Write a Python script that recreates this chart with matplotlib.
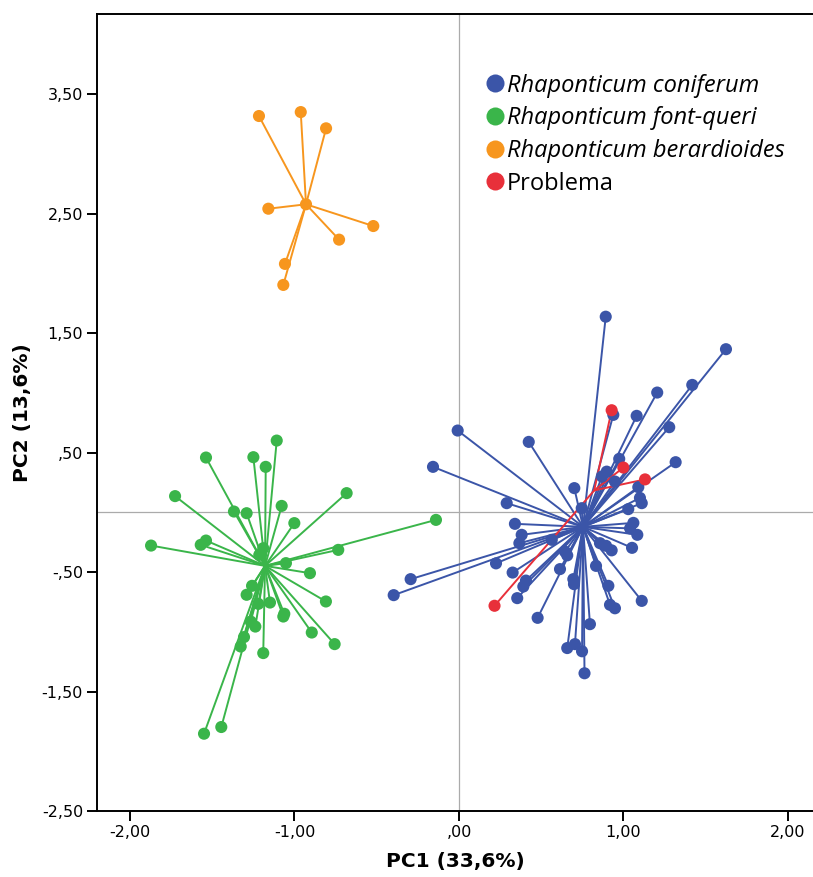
import numpy as np
import matplotlib
matplotlib.use("Agg")
import matplotlib.pyplot as plt
from matplotlib.lines import Line2D

# group scores (PC1, PC2)
coniferum_x = [0.892, 1.623, 1.418, 1.205, 1.080, 0.938, 1.278, -0.008, 0.424, 1.317,
               -0.158, 0.974, 0.898, 0.869, 0.948, 0.701, 1.090, 1.100, 1.111, 0.290,
               1.029, 0.746, 0.340, 1.060, 1.040, 1.084, 0.381, 0.367, 0.564, 0.857,
               0.894, 0.928, 1.052, 0.644, 0.658, 0.225, -0.294, 0.614, 0.833, 0.326,
               0.695, 0.699, 0.407, 0.391, 0.908, -0.397, 0.354, 0.918, 0.948, 1.111,
               0.478, 0.796, 0.658, 0.705, 0.748, 0.763]
coniferum_y = [1.638, 1.366, 1.067, 1.003, 0.808, 0.816, 0.713, 0.685, 0.590, 0.420,
               0.381, 0.448, 0.341, 0.300, 0.258, 0.203, 0.211, 0.121, 0.077, 0.077,
               0.027, 0.035, -0.096, -0.088, -0.134, -0.188, -0.188, -0.258, -0.230, -0.258,
               -0.280, -0.318, -0.297, -0.328, -0.360, -0.427, -0.559, -0.475, -0.448, -0.504,
               -0.559, -0.601, -0.571, -0.621, -0.615, -0.693, -0.718, -0.774, -0.803, -0.741,
               -0.883, -0.936, -1.136, -1.103, -1.163, -1.347]

fontqueri_x = [-1.108, -1.538, -1.250, -1.175, -1.726, -0.683, -1.368, -1.291, -1.078, -1.001,
               -0.140, -1.872, -1.570, -1.538, -1.190, -1.214, -0.734, -1.052, -0.906, -1.258,
               -1.291, -1.149, -1.220, -0.809, -1.068, -1.062, -1.266, -1.238, -0.895, -0.756,
               -1.307, -1.327, -1.190, -1.445, -1.550]
fontqueri_y = [0.601, 0.459, 0.462, 0.381, 0.136, 0.161, 0.007, -0.007, 0.054, -0.090,
               -0.063, -0.278, -0.272, -0.236, -0.300, -0.356, -0.314, -0.425, -0.509, -0.615,
               -0.690, -0.755, -0.766, -0.746, -0.872, -0.849, -0.914, -0.956, -1.006, -1.103,
               -1.044, -1.123, -1.178, -1.797, -1.853]

berardioides_x = [-1.216, -0.962, -0.808, -1.159, -0.930, -0.521, -0.729, -1.058, -1.068]
berardioides_y = [3.318, 3.351, 3.215, 2.542, 2.579, 2.397, 2.283, 2.080, 1.904]

problema_x = [0.928, 0.999, 1.131, 0.216]
problema_y = [0.855, 0.375, 0.276, -0.782]

# group centroids (star centres)
centroid_x = [0.754, -1.179, -0.930, 0.822]
centroid_y = [-0.121, -0.448, 2.579, 0.184]

group_names = ["Rhaponticum coniferum", "Rhaponticum font-queri",
               "Rhaponticum berardioides", "Problema"]
group_colors = ["#3B55A8", "#3AB54A", "#F7961E", "#E8303A"]

x_ticks = [-2.0, -1.0, 0.0, 1.0, 2.0]
x_ticklabels = ["-2,00", "-1,00", ",00", "1,00", "2,00"]
y_ticks = [-2.5, -1.5, -0.5, 0.5, 1.5, 2.5, 3.5]
y_ticklabels = ["-2,50", "-1,50", "-,50", ",50", "1,50", "2,50", "3,50"]

groups_x = [coniferum_x, fontqueri_x, berardioides_x, problema_x]
groups_y = [coniferum_y, fontqueri_y, berardioides_y, problema_y]

fig = plt.figure(figsize=(8.13, 8.77), dpi=100)
ax = fig.add_axes([97 / 813, 1 - 811 / 877, 1 - 97 / 813, (811 - 14) / 877])

ax.axvline(0, color="#ABABAB", lw=0.9, zorder=1)
ax.axhline(0, color="#ABABAB", lw=0.9, zorder=1)

for gx, gy, cx, cy, col in zip(groups_x, groups_y, centroid_x, centroid_y, group_colors):
    for px, py in zip(gx, gy):
        ax.plot([cx, px], [cy, py], color=col, lw=1.4, zorder=2, solid_capstyle="round")
    ax.scatter(gx, gy, s=76, color=col, edgecolors="none", zorder=3)

ax.set_xlim(-2.2006, 2.152)
ax.set_ylim(-2.5, 4.172)
ax.set_xticks(x_ticks)
ax.set_xticklabels(x_ticklabels)
ax.set_yticks(y_ticks)
ax.set_yticklabels(y_ticklabels)
ax.tick_params(direction="out", length=7, width=1.4, labelsize=11.5, pad=3)
ax.spines["right"].set_visible(False)
for sp in ax.spines.values():
    sp.set_linewidth(1.4)

ax.set_xlabel("PC1 (33,6%)", fontsize=14.5, fontweight="bold", labelpad=9)
ax.set_ylabel("PC2 (13,6%)", fontsize=14.5, fontweight="bold", labelpad=7)

handles = [Line2D([], [], marker="o", ls="none", ms=13, color=c, mec="none")
           for c in group_colors]
leg = ax.legend(handles, group_names, loc="upper left", bbox_to_anchor=(0.506, 0.952),
                frameon=False, handletextpad=-0.1, labelspacing=0.37, handlelength=1.2,
                prop={"family": "Open Sans", "size": 17})
for t in leg.get_texts()[:3]:
    t.set_fontstyle("italic")

fig.savefig("out.png", dpi=100)
